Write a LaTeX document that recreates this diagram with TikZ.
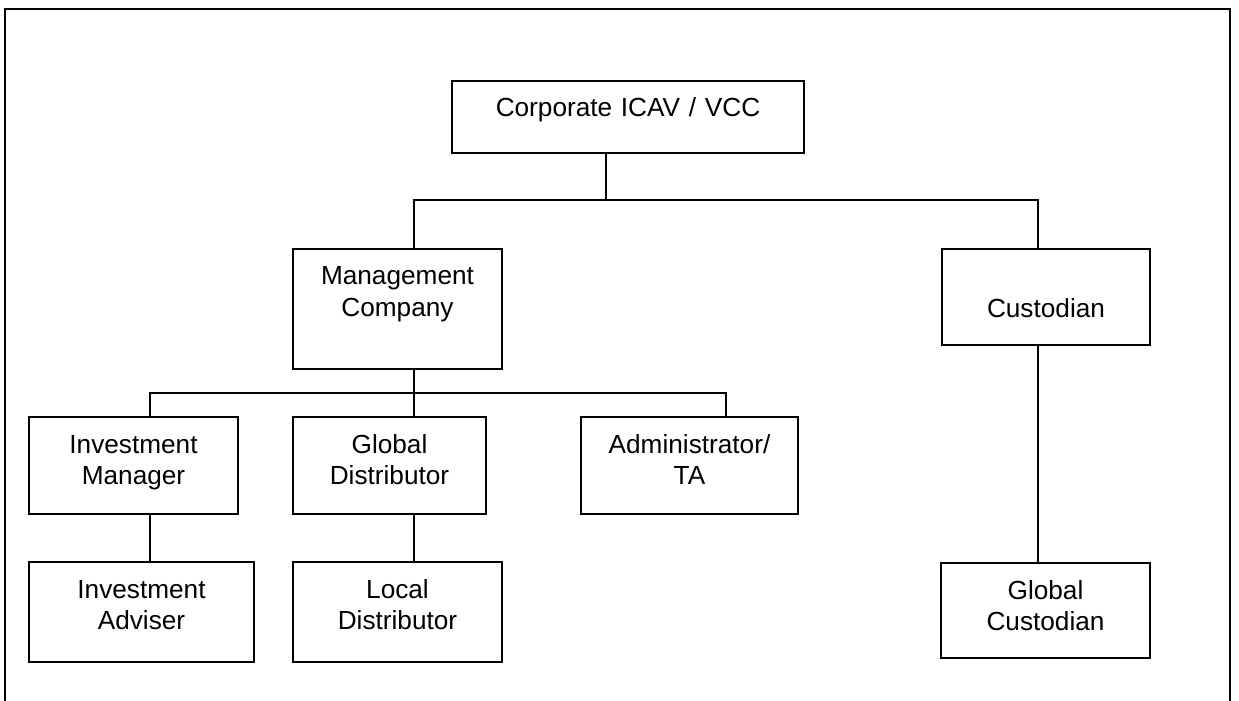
\documentclass[tikz,border=0pt]{standalone}
\usepackage{fontspec}
\setmainfont{Liberation Sans}

\begin{document}
\begin{tikzpicture}[x=0.5pt,y=-0.5pt,
  orgbox/.style={draw,line width=1pt,inner sep=0pt,anchor=north,align=center,text height=18pt,font=\fontsize{13.1}{15.7}\selectfont},
  link/.style={line width=1pt}]
\useasboundingbox (0,0) rectangle (1239,701);
\draw[line width=1.2pt] (5,701) -- (5,9) -- (1230,9) -- (1230,701);

\node[orgbox,text width=176pt,text depth=18pt] (corp) at (628,80) {Corporate ICAV / VCC};
\node[orgbox,text width=104.5pt,text depth=42pt] (mgmt) at (397.5,248) {Management\\ Company};
\node[orgbox,text width=104pt,text height=34pt,text depth=14pt] (cust) at (1046,248) {Custodian};
\node[orgbox,text width=104.5pt,text depth=30.5pt] (invmgr) at (133.5,416) {Investment\\ Manager};
\node[orgbox,text width=96.5pt,text depth=30.5pt] (gdist) at (389.5,416) {Global\\ Distributor};
\node[orgbox,text width=108.5pt,text depth=30.5pt] (admin) at (689.5,416) {Administrator/\\ TA};
\node[orgbox,text width=112.5pt,text depth=32pt] (invadv) at (141.5,561) {Investment\\ Adviser};
\node[orgbox,text width=104.5pt,text depth=32pt] (ldist) at (397.5,561) {Local\\ Distributor};
\node[orgbox,text width=104.5pt,text depth=29.5pt] (gcust) at (1045.5,562) {Global\\ Custodian};

\coordinate (jcorp) at (606,200);
\coordinate (jcust) at (1038,200);
\coordinate (jmgmt) at (414,393);
\coordinate (jleft) at (150,393);
\coordinate (jright) at (726,393);

\draw[link] (corp.south -| jcorp) -- (jcorp) -| (mgmt.north -| jmgmt); \draw[link] (jcorp) -| (cust.north -| jcust);
\draw[link] (mgmt.south -| jmgmt) -- (jmgmt) -| (invmgr.north -| jleft); \draw[link] (jmgmt) -- (gdist.north -| jmgmt); \draw[link] (jmgmt) -| (admin.north -| jright);
\draw[link] (invmgr.south -| jleft) -- (invadv.north -| jleft); \draw[link] (gdist.south -| jmgmt) -- (ldist.north -| jmgmt); \draw[link] (cust.south -| jcust) -- (gcust.north -| jcust);
\end{tikzpicture}
\end{document}
